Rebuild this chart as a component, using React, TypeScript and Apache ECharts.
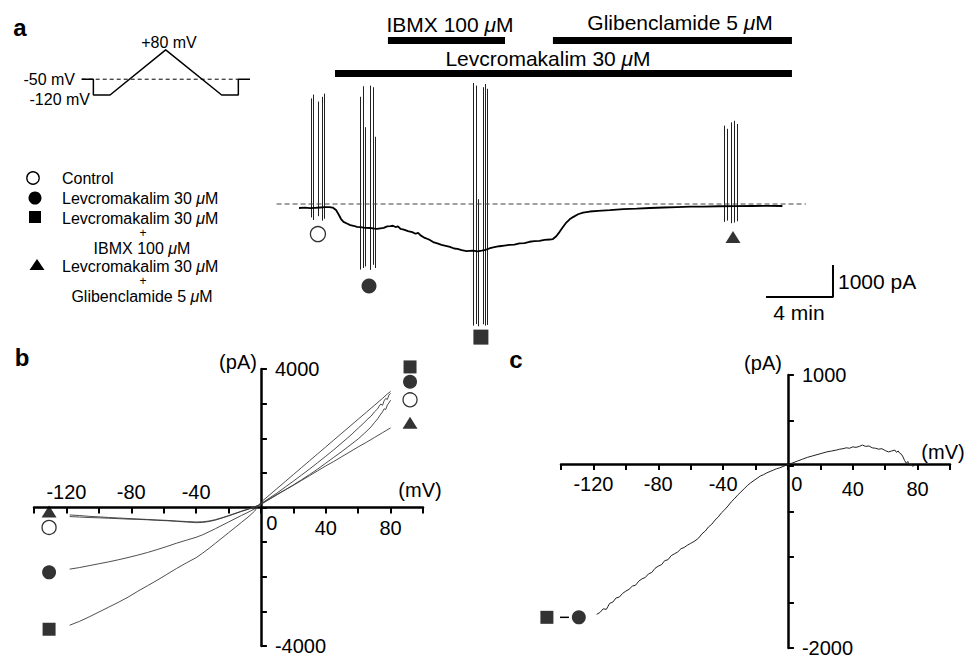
import React, { useEffect, useRef } from 'react';
import * as echarts from 'echarts';

const FONT = '"Liberation Sans", Arial, Helvetica, sans-serif';

// ---------- panel a : voltage protocol ----------
const protocolTime = [0, 35, 35, 85, 252, 420, 470, 470, 505];
const protocolVoltage = [-50, -50, -120, -120, 80, -120, -120, -50, -50];
const holdingTime = [0, 470];
const holdingVoltage = -50;

// ---------- panel a : current trace (min, pA) ----------
const traceTime = [-0.06, 0.3, 0.6, 0.9, 1.2, 1.5, 1.75, 1.95, 2.15, 2.3, 2.45, 2.6, 2.8, 3.0, 3.2, 3.4, 3.6, 3.9, 4.2, 4.45, 4.6, 4.8, 5.0, 5.2, 5.4, 5.55, 5.7, 5.85, 6.0, 6.2, 6.45, 6.7, 6.9, 7.05, 7.2, 7.45, 7.7, 7.95, 8.2, 8.45, 8.7, 8.95, 9.2, 9.4, 9.65, 9.95, 10.3, 10.6, 10.85, 11.1, 11.35, 11.6, 11.9, 12.2, 12.5, 12.8, 13.1, 13.4, 13.7, 14.0, 14.3, 14.6, 14.9, 15.1, 15.3, 15.5, 15.7, 15.9, 16.1, 16.3, 16.6, 16.9, 17.3, 17.8, 18.5, 19.3, 20.1, 20.9, 21.7, 22.5, 23.3, 24.1, 25.0, 26.0, 27.0, 28.0, 28.8];
const traceCurrent = [-125, -115, -130, -120, -110, -100, -95, -110, -190, -320, -470, -560, -610, -660, -680, -715, -720, -745, -750, -770, -780, -760, -745, -700, -690, -680, -720, -700, -780, -800, -845, -880, -930, -900, -980, -1060, -1110, -1190, -1230, -1280, -1310, -1340, -1390, -1400, -1440, -1470, -1460, -1480, -1460, -1430, -1380, -1350, -1320, -1300, -1280, -1270, -1230, -1220, -1180, -1160, -1150, -1120, -1110, -1095, -1010, -870, -720, -580, -480, -410, -320, -270, -235, -215, -190, -160, -145, -125, -110, -95, -85, -80, -70, -65, -62, -60, -62];
const baselineTime = [-1.4, 30.2];

// ramp-evoked current excursions: [time (min), top (pA), bottom (pA)]
const rampsControl = [[0.65, 3300, -420], [0.8, 3420, -500], [1.1, 3200, -380], [1.3, 3350, -520], [1.45, 3450, -460]];
const rampsLev = [[3.6, 3350, -2050], [3.75, 3680, -2000], [3.9, 2400, -1950], [4.2, 3700, -2060], [4.35, 3650, -1900], [4.5, 2100, -2000]];
const rampsLevIbmx = [[10.35, 3780, -3800], [10.5, 3700, -3750], [10.65, 150, -3820], [10.95, 3650, -3760], [11.05, 3750, -3800], [11.2, 3600, -3780]];
const rampsLevGlib = [[25.35, 2450, -560], [25.5, 2350, -520], [25.75, 2550, -600], [25.95, 2600, -580], [26.1, 2500, -540]];

// condition markers (order: control, lev, lev+IBMX, lev+glib)
const conditionNames = ['Control', 'Levcromakalim 30 μM', 'Levcromakalim 30 μM + IBMX 100 μM', 'Levcromakalim 30 μM + Glibenclamide 5 μM'];
const traceMarkerTime = [1.07, 4.12, 10.8, 25.85];
const traceMarkerCurrent = [-940, -2560, -4160, -1030];

// drug application bars
const drugNames = ['IBMX 100 μM', 'Glibenclamide 5 μM', 'Levcromakalim 30 μM'];
const drugStart = [5.25, 15.1, 2.09];
const drugEnd = [12.24, 29.37, 29.37];
const drugLevel = [5109, 5109, 4078];

// scale bar (4 min, 1000 pA)
const scaleBarTime = [27.82, 31.82, 31.82];
const scaleBarCurrent = [-2906, -2906, -1906];

// ---------- panel b : I-V curves [mV, pA] ----------
const ivControl = [[-118, -262], [-112, -275], [-106, -290], [-100, -298], [-94, -310], [-88, -322], [-82, -335], [-76, -342], [-70, -355], [-64, -370], [-58, -382], [-52, -400], [-46, -420], [-40, -438], [-36, -432], [-32, -405], [-28, -362], [-24, -305], [-20, -245], [-16, -180], [-12, -115], [-8, -55], [-4, 10], [0, 90], [5, 230], [10, 370], [15, 510], [20, 650], [25, 800], [30, 950], [35, 1110], [40, 1280], [45, 1450], [50, 1620], [55, 1800], [60, 1980], [64, 2150], [68, 2330], [70, 2450], [72, 2560], [74, 2700], [75, 2760], [76, 2850], [77, 2830], [78, 2960], [79, 3020], [80, 3100]];
const ivLev = [[-118, -1780], [-112, -1735], [-106, -1680], [-100, -1625], [-94, -1570], [-88, -1510], [-82, -1445], [-76, -1375], [-70, -1300], [-64, -1215], [-58, -1125], [-52, -1030], [-46, -945], [-40, -860], [-36, -790], [-32, -700], [-28, -610], [-24, -515], [-20, -420], [-16, -325], [-12, -230], [-8, -140], [-4, -40], [0, 110], [5, 265], [10, 420], [15, 590], [20, 760], [25, 935], [30, 1110], [35, 1295], [40, 1480], [45, 1670], [50, 1870], [55, 2070], [60, 2290], [63, 2420], [66, 2560], [68, 2640], [70, 2760], [72, 2850], [73, 2930], [74, 2990], [75, 2950], [76, 3080], [77, 3150], [78, 3120], [79, 3250], [80, 3300]];
const ivLevIbmx = [[-118, -3400], [-112, -3290], [-106, -3160], [-100, -3020], [-94, -2880], [-88, -2740], [-82, -2590], [-76, -2420], [-70, -2260], [-64, -2100], [-58, -1930], [-52, -1760], [-46, -1600], [-40, -1450], [-36, -1320], [-32, -1180], [-28, -1030], [-24, -880], [-20, -730], [-16, -580], [-12, -430], [-8, -280], [-4, -110], [0, 150], [5, 350], [10, 550], [15, 750], [20, 950], [25, 1150], [30, 1350], [35, 1550], [40, 1750], [45, 1950], [50, 2150], [55, 2350], [60, 2550], [65, 2750], [70, 2950], [75, 3150], [78, 3280], [80, 3350]];
const ivLevGlib = [[-118, -215], [-112, -232], [-106, -255], [-100, -270], [-94, -288], [-88, -302], [-82, -318], [-76, -332], [-70, -345], [-64, -360], [-58, -372], [-52, -390], [-46, -405], [-40, -418], [-36, -412], [-32, -390], [-28, -350], [-24, -295], [-20, -235], [-16, -170], [-12, -105], [-8, -45], [-4, 20], [0, 100], [5, 240], [10, 380], [15, 510], [20, 640], [25, 780], [30, 920], [35, 1060], [40, 1200], [45, 1330], [50, 1470], [55, 1610], [60, 1750], [65, 1880], [70, 2020], [75, 2160], [80, 2300]];
const bMarkerLeftV = -130.7;
const bMarkerRightV = 92;
const bMarkerLeftI = [-576, -1873, -3516, -115];
const bMarkerRightI = [3110, 3630, 4060, 2450];

// ---------- panel c : IBMX-sensitive difference current [mV, pA] ----------
const ivDifference = [[-118, -1630], [-116, -1610], [-114, -1570], [-112, -1575], [-110, -1510], [-108, -1495], [-106, -1450], [-104, -1440], [-102, -1400], [-100, -1375], [-98, -1355], [-96, -1320], [-94, -1310], [-92, -1265], [-90, -1240], [-88, -1225], [-86, -1185], [-84, -1170], [-82, -1125], [-80, -1100], [-78, -1085], [-76, -1040], [-74, -1030], [-72, -985], [-70, -965], [-68, -945], [-66, -910], [-64, -895], [-62, -870], [-60, -850], [-58, -830], [-56, -805], [-55, -790], [-53, -745], [-51, -715], [-49, -670], [-47, -640], [-45, -595], [-43, -560], [-41, -515], [-39, -480], [-37, -440], [-35, -395], [-33, -360], [-31, -320], [-29, -285], [-27, -250], [-25, -215], [-23, -185], [-21, -160], [-19, -135], [-17, -110], [-15, -95], [-13, -75], [-11, -60], [-9, -45], [-7, -30], [-5, -20], [-3, -5], [0, 15], [3, 35], [6, 55], [9, 75], [12, 95], [15, 110], [18, 125], [21, 140], [24, 155], [27, 165], [30, 175], [32, 185], [34, 190], [36, 200], [38, 195], [40, 210], [42, 205], [44, 215], [46, 230], [48, 215], [50, 220], [52, 200], [54, 195], [56, 185], [58, 190], [60, 170], [62, 155], [64, 165], [66, 175], [67, 150], [68, 165], [69, 140], [70, 130], [71, 100], [72, 60], [73, 30], [74, 50], [75, 0], [76, 20], [77, -5], [78, 10]];
const cMarkerV = [-148.7, -129];
const cMarkerI = -1663;
const cConnectorV = [-142.5, -135.1];

// ---------- helpers ----------
const markerStyles = [
  { symbol: 'circle', itemStyle: { color: '#fff', borderColor: '#000', borderWidth: 1.3 } },
  { symbol: 'circle', itemStyle: { color: '#000' } },
  { symbol: 'rect', itemStyle: { color: '#000' } },
  { symbol: 'triangle', itemStyle: { color: '#000' } },
];
const markerSizes: any[] = [14, 14, 13, [15, 12]];

function richText(str: string, size: number, weight = 'normal') {
  if (str.indexOf('μ') < 0) return { text: str, rich: undefined };
  const parts = str.split('μ');
  const text = parts.map((p) => (p ? `{r|${p}}` : '')).join('{i|μ}');
  return {
    text,
    rich: {
      r: { fontSize: size, fontFamily: FONT, fill: '#000', fontWeight: weight },
      i: { fontSize: size, fontFamily: FONT, fill: '#000', fontStyle: 'italic', fontWeight: weight },
    },
  };
}

function T(x: number, y: number, str: string, size: number, align = 'center', weight = 'normal') {
  const { text, rich } = richText(str, size, weight);
  const style: any = { text, align, verticalAlign: 'middle', fontSize: size, fontFamily: FONT, fill: '#000', fontWeight: weight };
  if (rich) style.rich = rich;
  return { type: 'text', x, y, silent: true, style };
}

const zip = (xs: number[], ys: number[]) => xs.map((x, i) => [x, ys[i]]);
const rampCoords = (arr: number[][]) => arr.map(([t, top, bot]) => ({ coords: [[t, top], [t, bot]] }));

const axisLineStyle = { color: '#000', width: 2.5 };
const tickStyle = { color: '#000', width: 2 };
const labelBase = { color: '#000', fontSize: 20, fontFamily: FONT };

// grid geometry of the I-V panels
const gridB = { left: 34, top: 369, width: 389, height: 277 };
const gridC = { left: 561, top: 375, width: 389, height: 276 };
const vMin = -140, vMax = 100;
const bIMin = -4000, bIMax = 4000;
const cIMin = -2000, cIMax = 1000;
// offsets that bring the axes onto the zero lines
const bXOffset = -(gridB.height * (0 - bIMin)) / (bIMax - bIMin);
const bYOffset = -(gridB.width * (0 - vMin)) / (vMax - vMin);
const cXOffset = -(gridC.height * (0 - cIMin)) / (cIMax - cIMin);
const cYOffset = -(gridC.width * (0 - vMin)) / (vMax - vMin);

export default function App() {
  const ref = useRef<HTMLDivElement>(null);

  useEffect(() => {
    if (!ref.current) return;
    const chart = echarts.init(ref.current, undefined, { renderer: 'svg' });

    const legendX = 142;
    const graphic: any[] = [
      T(20, 27, 'a', 24, 'center', 'bold'),
      T(22, 357, 'b', 24, 'center', 'bold'),
      T(516, 359, 'c', 24, 'center', 'bold'),
      // protocol labels
      T(169, 42, '+80 mV', 16),
      T(75, 79, '-50 mV', 16, 'right'),
      T(90, 99, '-120 mV', 16, 'right'),
      // drug labels
      T(450, 24, drugNames[0], 21),
      T(680, 22, drugNames[1], 21),
      T(548, 58, drugNames[2], 21),
      // scale bar labels
      T(838, 281, '1000 pA', 21, 'left'),
      T(799, 312, '4 min', 21),
      // axis names
      T(238, 362, '(pA)', 20),
      T(420, 490, '(mV)', 20),
      T(763, 363, '(pA)', 20),
      T(943, 452, '(mV)', 20),
      // legend
      { type: 'circle', silent: true, shape: { cx: 33, cy: 178, r: 6.2 }, style: { fill: '#fff', stroke: '#000', lineWidth: 1.3 } },
      { type: 'circle', silent: true, shape: { cx: 35, cy: 198, r: 6.5 }, style: { fill: '#000' } },
      { type: 'rect', silent: true, shape: { x: 29, y: 211, width: 12, height: 12 }, style: { fill: '#000' } },
      { type: 'polygon', silent: true, shape: { points: [[37, 259], [29.5, 270], [44.5, 270]] }, style: { fill: '#000' } },
      T(62, 178, conditionNames[0], 16, 'left'),
      T(62, 198, 'Levcromakalim 30 μM', 16, 'left'),
      T(62, 218, 'Levcromakalim 30 μM', 16, 'left'),
      T(legendX + 1, 233, '+', 12),
      T(legendX, 248, 'IBMX 100 μM', 16),
      T(62, 266, 'Levcromakalim 30 μM', 16, 'left'),
      T(legendX + 1, 281, '+', 12),
      T(legendX, 296, 'Glibenclamide 5 μM', 16),
    ];

    const series: any[] = [
      // protocol
      { type: 'line', xAxisIndex: 0, yAxisIndex: 0, data: zip(protocolTime, protocolVoltage), symbol: 'none', lineStyle: { color: '#000', width: 1.5 } },
      { type: 'line', xAxisIndex: 0, yAxisIndex: 0, data: holdingTime.map((t) => [t, holdingVoltage]), symbol: 'none', lineStyle: { color: '#000', width: 1, type: [4, 3] } },
      // trace
      { type: 'line', xAxisIndex: 1, yAxisIndex: 1, data: baselineTime.map((t) => [t, 0]), symbol: 'none', lineStyle: { color: '#444', width: 1, type: [5, 3] } },
      { type: 'line', xAxisIndex: 1, yAxisIndex: 1, data: zip(traceTime, traceCurrent), symbol: 'none', lineStyle: { color: '#000', width: 1.8 } },
      {
        type: 'lines', coordinateSystem: 'cartesian2d', xAxisIndex: 1, yAxisIndex: 1, silent: true,
        data: [...rampCoords(rampsControl), ...rampCoords(rampsLev), ...rampCoords(rampsLevIbmx), ...rampCoords(rampsLevGlib)],
        lineStyle: { color: '#222', width: 1, opacity: 1 },
      },
      {
        type: 'lines', coordinateSystem: 'cartesian2d', xAxisIndex: 1, yAxisIndex: 1, silent: true,
        data: drugNames.map((n, i) => ({ name: n, coords: [[drugStart[i], drugLevel[i]], [drugEnd[i], drugLevel[i]]] })),
        lineStyle: { color: '#000', width: 7, opacity: 1, cap: 'butt' },
      },
      { type: 'line', xAxisIndex: 1, yAxisIndex: 1, data: zip(scaleBarTime, scaleBarCurrent), symbol: 'none', lineStyle: { color: '#000', width: 2 } },
      {
        type: 'scatter', xAxisIndex: 1, yAxisIndex: 1, clip: false,
        data: traceMarkerTime.map((t, i) => ({ value: [t, traceMarkerCurrent[i]], symbolSize: i === 3 ? [15, 12] : 15, ...markerStyles[i] })),
      },
      // panel b
      ...[ivControl, ivLev, ivLevIbmx, ivLevGlib].map((d, i) => ({
        type: 'line', name: conditionNames[i], xAxisIndex: 2, yAxisIndex: 2, data: d, symbol: 'none',
        lineStyle: { color: '#3a3a3a', width: 0.9 },
      })),
      {
        type: 'scatter', xAxisIndex: 2, yAxisIndex: 2, clip: false,
        data: [
          ...bMarkerLeftI.map((v, i) => ({ value: [bMarkerLeftV, v], symbolSize: markerSizes[i], ...markerStyles[i] })),
          ...bMarkerRightI.map((v, i) => ({ value: [bMarkerRightV, v], symbolSize: markerSizes[i], ...markerStyles[i] })),
        ],
      },
      // panel c
      { type: 'line', xAxisIndex: 4, yAxisIndex: 3, data: ivDifference, symbol: 'none', lineStyle: { color: '#222', width: 1 } },
      { type: 'line', xAxisIndex: 4, yAxisIndex: 3, data: cConnectorV.map((v) => [v, cMarkerI]), symbol: 'none', clip: false, lineStyle: { color: '#000', width: 1.5 } },
      {
        type: 'scatter', xAxisIndex: 4, yAxisIndex: 3, clip: false,
        data: [
          { value: [cMarkerV[0], cMarkerI], symbolSize: 13, ...markerStyles[2] },
          { value: [cMarkerV[1], cMarkerI], symbolSize: 14, ...markerStyles[1] },
        ],
      },
    ];

    const option: any = {
      animation: false,
      backgroundColor: '#fff',
      grid: [
        { left: 81.7, top: 45.4, width: 168.3, height: 54.1 },
        { left: 266.5, top: 12, width: 603, height: 384 },
        gridB,
        gridC,
      ],
      xAxis: [
        { gridIndex: 0, type: 'value', min: 0, max: 505, show: false },
        { gridIndex: 1, type: 'value', min: -2, max: 34, show: false },
        {
          gridIndex: 2, type: 'value', min: vMin, max: vMax, interval: 20, position: 'bottom', offset: bXOffset,
          axisLine: { onZero: false, lineStyle: axisLineStyle },
          axisTick: { length: 6, lineStyle: tickStyle },
          splitLine: { show: false },
          axisLabel: {
            ...labelBase, margin: 5,
            formatter: (v: number) => (v === 0 ? '{z|0}' : v === 40 || v === 80 ? `{p|${v}}` : ''),
            rich: { z: { ...labelBase, padding: [0, 0, 0, 22] }, p: { ...labelBase, padding: [5, 0, 0, 0] } },
          },
        },
        {
          gridIndex: 2, type: 'value', min: vMin, max: vMax, interval: 20, position: 'top', offset: bXOffset,
          axisLine: { show: false, onZero: false },
          axisTick: { show: false },
          splitLine: { show: false },
          axisLabel: { ...labelBase, margin: 6, formatter: (v: number) => (v === -120 || v === -80 || v === -40 ? String(v) : '') },
        },
        {
          gridIndex: 3, type: 'value', min: vMin, max: vMax, interval: 20, position: 'bottom', offset: cXOffset,
          axisLine: { onZero: false, lineStyle: axisLineStyle },
          axisTick: { length: 6, lineStyle: tickStyle },
          splitLine: { show: false },
          axisLabel: {
            ...labelBase, margin: 10,
            formatter: (v: number) => (v === 0 ? '{z|0}' : v === 40 || v === 80 ? `{p|${v}}` : v === -120 || v === -80 || v === -40 ? String(v) : ''),
            rich: { z: { ...labelBase, padding: [0, 0, 0, 18] }, p: { ...labelBase, padding: [5, 0, 0, 0] } },
          },
        },
      ],
      yAxis: [
        { gridIndex: 0, type: 'value', min: -140, max: 100, show: false },
        { gridIndex: 1, type: 'value', min: -6000, max: 6000, show: false },
        {
          gridIndex: 2, type: 'value', min: bIMin, max: bIMax, interval: 1000, position: 'left', offset: bYOffset,
          axisLine: { onZero: false, lineStyle: axisLineStyle },
          axisTick: { inside: true, length: 6, lineStyle: tickStyle },
          splitLine: { show: false },
          axisLabel: { ...labelBase, inside: true, margin: 14, formatter: (v: number) => (v === bIMax || v === bIMin ? String(v) : '') },
        },
        {
          gridIndex: 3, type: 'value', min: cIMin, max: cIMax, interval: 500, position: 'left', offset: cYOffset,
          axisLine: { onZero: false, lineStyle: axisLineStyle },
          axisTick: { inside: true, length: 6, lineStyle: tickStyle },
          splitLine: { show: false },
          axisLabel: { ...labelBase, inside: true, margin: 14, formatter: (v: number) => (v === cIMax || v === cIMin ? String(v) : '') },
        },
      ],
      graphic,
      series,
    };

    chart.setOption(option);
    return () => chart.dispose();
  }, []);

  return (
    <div
      ref={ref}
      style={{ position: 'fixed', left: 0, top: 0, width: 964, height: 658, background: '#fff' }}
    />
  );
}
